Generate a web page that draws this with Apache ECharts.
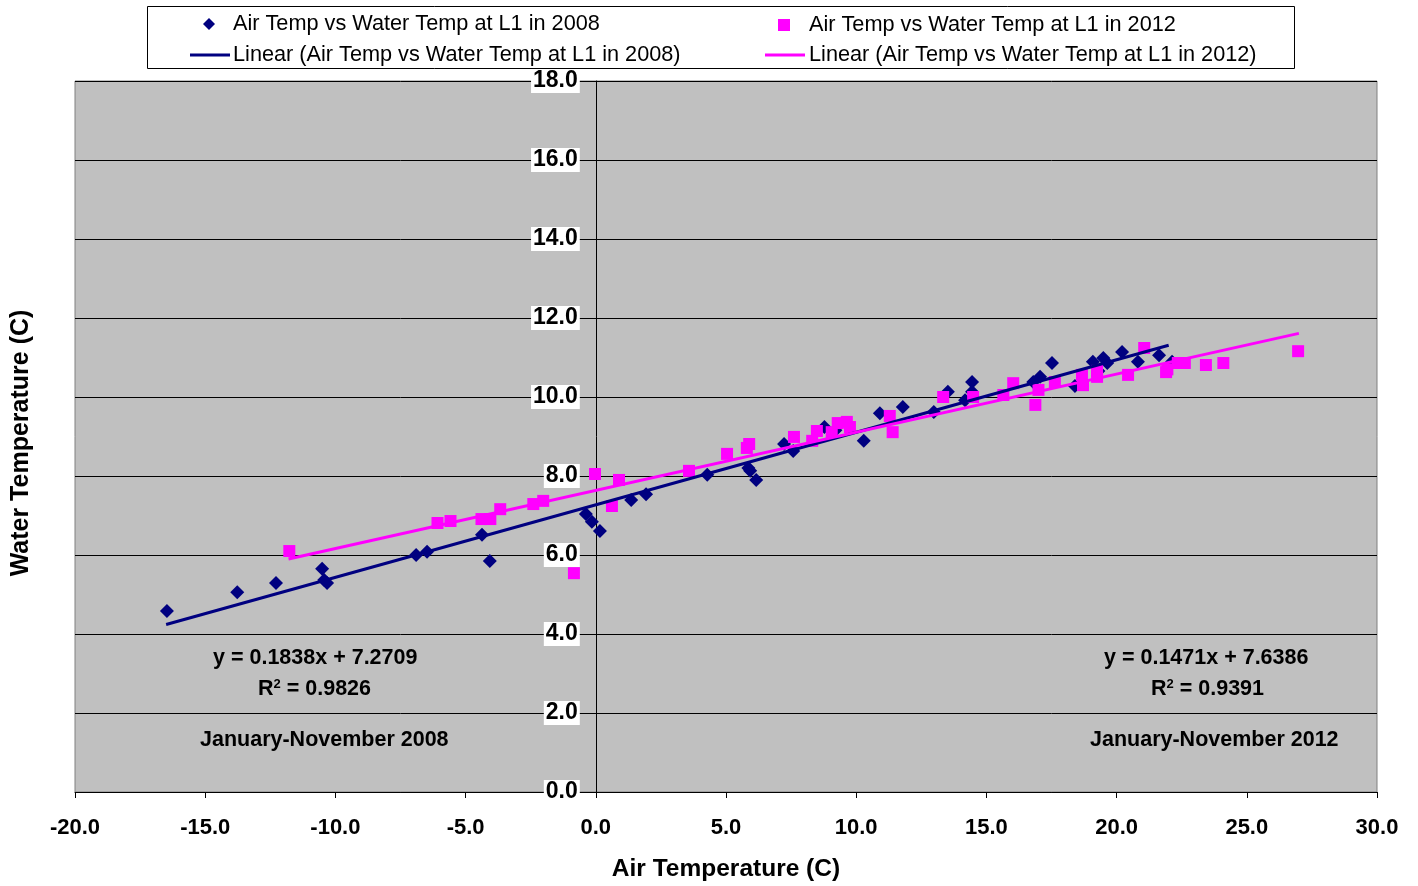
<!DOCTYPE html>
<html><head><meta charset="utf-8">
<script src="https://cdn.jsdelivr.net/npm/echarts@6/dist/echarts.min.js"></script>
<style>html,body{margin:0;padding:0;background:#fff}#c{width:1418px;height:886px}</style>
</head><body><div id="c"></div>
<script>
const xTicks = [-20, -15, -10, -5, 0, 5, 10, 15, 20, 25, 30];
const yTicks = [0, 2, 4, 6, 8, 10, 12, 14, 16, 18];

const pts2008 = [
  [-16.47,4.58],[-13.77,5.06],[-12.28,5.29],[-10.51,5.65],[-10.43,5.37],[-10.32,5.29],
  [-6.90,6.00],[-6.48,6.08],[-4.37,6.51],[-4.07,5.85],[-0.38,7.04],[-0.15,6.84],[0.16,6.61],
  [1.36,7.39],[1.93,7.54],[4.28,8.03],[5.86,8.20],[5.93,8.13],[6.16,7.90],[7.23,8.81],[7.58,8.63],
  [8.78,9.24],[9.20,9.16],[10.29,8.89],[10.91,9.59],[11.79,9.75],[12.98,9.62],[13.52,10.13],
  [14.18,9.92],[14.45,10.13],[14.45,10.38],[16.80,10.38],[17.06,10.51],[17.52,10.86],[18.40,10.28],
  [19.09,10.89],[19.30,10.66],[19.49,10.99],[19.64,10.86],[20.21,11.14],[20.82,10.89],[21.63,11.06],[22.13,10.89]
];
const pts2012 = [
  [-11.77,6.10],[-6.08,6.81],[-5.58,6.86],[-4.39,6.91],[-4.05,6.91],[-3.67,7.16],[-2.40,7.29],[-2.02,7.37],
  [-0.84,5.54],[-0.03,8.05],[0.62,7.24],[0.89,7.90],[3.58,8.13],[5.04,8.56],[5.80,8.71],[5.89,8.81],
  [7.61,8.99],[8.31,8.89],[8.49,9.14],[9.06,9.11],[9.29,9.34],[9.64,9.37],[9.76,9.24],[11.29,9.52],
  [11.40,9.11],[13.34,10.00],[14.49,10.00],[15.65,10.05],[16.03,10.35],[16.88,9.80],[17.00,10.18],
  [17.63,10.38],[18.67,10.56],[18.71,10.30],[19.25,10.51],[19.25,10.66],[20.44,10.56],[21.06,11.24],
  [21.90,10.63],[21.95,10.70],[22.35,10.86],[22.62,10.86],[23.43,10.81],[24.10,10.86],[26.97,11.16]
];
const trend2008 = [[-16.5,4.24],[22.0,11.31]];
const trend2012 = [[-11.8,5.90],[27.0,11.61]];

const names = [
  'Air Temp vs Water Temp at L1 in 2008',
  'Air Temp vs Water Temp at L1 in 2012',
  'Linear (Air Temp vs Water Temp at L1 in 2008)',
  'Linear (Air Temp vs Water Temp at L1 in 2012)'
];
const NAVY = '#000080', MAG = '#FF00FF';
const FONT = '"Liberation Sans", Arial, sans-serif';

function leg(name, icon, left, top, w, h, padL){
  return {data:[{name, icon}], left, top, itemWidth:w, itemHeight:h, itemGap:0,
    textStyle:{fontFamily:FONT, fontSize:21.7, color:'#000', padding:[0,0,0,padL]}, padding:0, selectedMode:false};
}

const GRID_L = 75, GRID_R = 41, W = 1418;
const plotW = W - GRID_L - GRID_R;
const zeroOffset = -plotW * (0 - xTicks[0]) / (xTicks[xTicks.length-1] - xTicks[0]);

const chart = echarts.init(document.getElementById('c'));
const rich = {a:{font:'bold 21.5px '+FONT, fill:'#000'}, s:{font:'bold 13px '+FONT, fill:'#000', verticalAlign:'top', padding:[0,0,10,0]}};
chart.setOption({
  animation:false,
  legend:[
    leg(names[0],'diamond',203,13,12,12,13),
    leg(names[2],'rect',190,44,40,3,-2),
    leg(names[1],'rect',778,14,12,12,14),
    leg(names[3],'rect',765,44,40,3,-1)
  ],
  graphic:[
    {type:'rect', shape:{x:147.5,y:6.5,width:1147,height:62}, style:{fill:'none', stroke:'#000', lineWidth:1}, z:-1},
    {type:'text', left:213, top:647, style:{text:'y = 0.1838x + 7.2709', font:'bold 21.5px '+FONT, fill:'#000'}},
    {type:'text', left:258, top:678, style:{rich, text:'{a|R}{s|2}{a| = 0.9826}'}},
    {type:'text', left:200, top:729, style:{text:'January-November 2008', font:'bold 21.5px '+FONT, fill:'#000'}},
    {type:'text', left:1104, top:647, style:{text:'y = 0.1471x + 7.6386', font:'bold 21.5px '+FONT, fill:'#000'}},
    {type:'text', left:1151, top:678, style:{rich, text:'{a|R}{s|2}{a| = 0.9391}'}},
    {type:'text', left:1090, top:729, style:{text:'January-November 2012', font:'bold 21.5px '+FONT, fill:'#000'}},
    {type:'text', left:9, top:'middle', rotation:Math.PI/2, style:{text:'Water Temperature (C)', font:'bold 25px '+FONT, fill:'#000'}, originX:0, originY:0}
  ],
  grid:{left:GRID_L, right:GRID_R, top:81, bottom:94, show:true, backgroundColor:'#C0C0C0', borderColor:'#808080', borderWidth:1, containLabel:false, outerBoundsMode:'none'},
  xAxis:{
    type:'value', min:xTicks[0], max:xTicks[xTicks.length-1], interval:5,
    name:'Air Temperature (C)', nameLocation:'middle', nameGap:65,
    nameTextStyle:{fontFamily:FONT, fontWeight:'bold', fontSize:24.5, color:'#000'},
    axisLine:{show:true, onZero:false, lineStyle:{color:'#000', width:1}},
    axisTick:{show:true, inside:false, length:6, lineStyle:{color:'#000'}},
    axisLabel:{fontFamily:FONT, fontWeight:'bold', fontSize:22, color:'#000', margin:25, formatter:v=>v.toFixed(1)},
    splitLine:{show:false}
  },
  yAxis:{
    type:'value', min:yTicks[0], max:yTicks[yTicks.length-1], interval:2, position:'left',
    offset:zeroOffset,
    axisLine:{show:true, onZero:false, lineStyle:{color:'#000', width:1}},
    axisTick:{show:true, inside:false, length:6, lineStyle:{color:'#000'}},
    axisLabel:{fontFamily:FONT, fontWeight:'bold', fontSize:23, color:'#000', margin:16,
      backgroundColor:'#fff', padding:[1,2,0,2], formatter:v=>v.toFixed(1)},
    splitLine:{show:true, lineStyle:{color:'#000', width:1}}
  },
  series:[
    {name:names[0], type:'scatter', data:pts2008, symbol:'diamond', symbolSize:14, itemStyle:{color:NAVY, opacity:1}, z:3},
    {name:names[1], type:'scatter', data:pts2012, symbol:'rect', symbolSize:12, itemStyle:{color:MAG, opacity:1}, z:4},
    {name:names[2], type:'line', data:trend2008, showSymbol:false, lineStyle:{color:NAVY, width:3}, itemStyle:{color:NAVY}, z:5},
    {name:names[3], type:'line', data:trend2012, showSymbol:false, lineStyle:{color:MAG, width:3}, itemStyle:{color:MAG}, z:5}
  ]
});
</script></body></html>
